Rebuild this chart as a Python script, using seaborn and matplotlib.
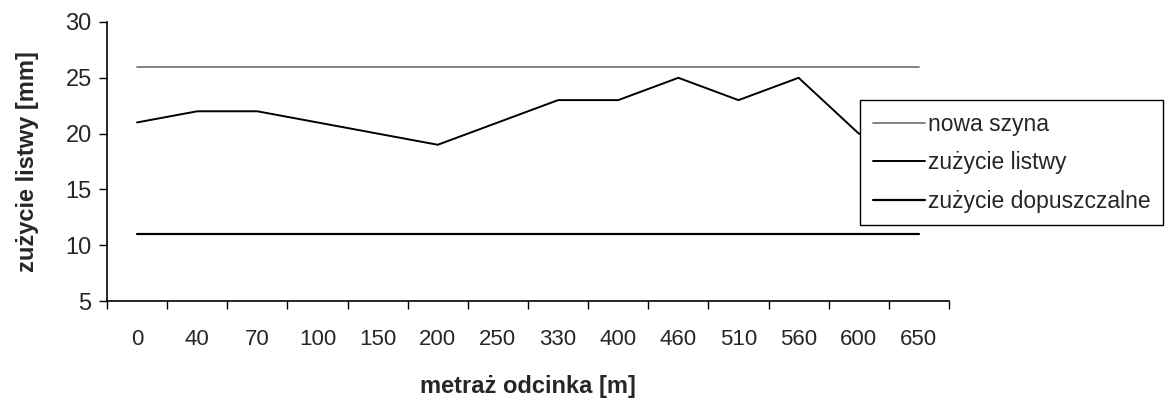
import matplotlib
matplotlib.use("Agg")
import matplotlib.pyplot as plt
import seaborn as sns
import pandas as pd
import numpy as np

categories = ["0", "40", "70", "100", "150", "200", "250", "330", "400", "460", "510", "560", "600", "650"]
nowa_szyna = [26, 26, 26, 26, 26, 26, 26, 26, 26, 26, 26, 26, 26, 26]
zuzycie_listwy = [21, 22, 22, 21, 20, 19, 21, 23, 23, 25, 23, 25, 20, 19]
zuzycie_dopuszczalne = [11, 11, 11, 11, 11, 11, 11, 11, 11, 11, 11, 11, 11, 11]

sns.set_style("ticks")
plt.rcParams['font.family'] = ['Liberation Sans', 'DejaVu Sans']

fig = plt.figure(figsize=(11.67, 4.01), dpi=100)
ax = fig.add_axes([107/1167, 1-301/401, (949-107)/1167, (301-22)/401])

pos = np.arange(len(categories))
df = pd.DataFrame({"pos": pos, "nowa": nowa_szyna, "listwy": zuzycie_listwy, "dop": zuzycie_dopuszczalne})

sns.lineplot(data=df, x="pos", y="nowa", ax=ax, color="#6e6e6e", linewidth=1.2, label="nowa szyna")
sns.lineplot(data=df, x="pos", y="listwy", ax=ax, color="black", linewidth=1.4, label="zużycie listwy")
sns.lineplot(data=df, x="pos", y="dop", ax=ax, color="black", linewidth=1.6, label="zużycie dopuszczalne")

ax.set_xlim(-0.5, len(categories) - 0.5)
ax.set_ylim(5, 30)
ax.set_yticks([5, 10, 15, 20, 25, 30])
ax.set_xticks(pos)
ax.set_xticklabels(categories)
ax.set_xticks(np.arange(-0.5, len(categories), 1.0), minor=True)
ax.tick_params(axis='x', which='major', length=0, pad=20, labelsize=16)
ax.tick_params(axis='x', which='minor', length=6, width=1, color='black', direction='out')
ax.tick_params(axis='y', which='major', length=6, width=1, color='black', direction='out', pad=5, labelsize=17)

for s in ["top", "right"]:
    ax.spines[s].set_visible(False)
for s in ["left", "bottom"]:
    ax.spines[s].set_color("black")
    ax.spines[s].set_linewidth(1.2)

ax.set_xlabel("metraż odcinka [m]", fontsize=17, fontweight='bold', labelpad=18)
ax.set_ylabel("zużycie listwy [mm]", fontsize=17, fontweight='bold', labelpad=19)

leg = ax.legend(loc='upper left', bbox_to_anchor=(860/1167, 1-100/401), bbox_transform=fig.transFigure,
                frameon=True, fancybox=False, edgecolor='black', facecolor='white', framealpha=1.0,
                fontsize=16.5, handlelength=2.3, handletextpad=0.1, labelspacing=0.68, borderpad=0.55,
                borderaxespad=0)
leg.get_frame().set_linewidth(1.0)
leg.set_zorder(10)

fig.savefig("out.png", dpi=100, facecolor='white')
